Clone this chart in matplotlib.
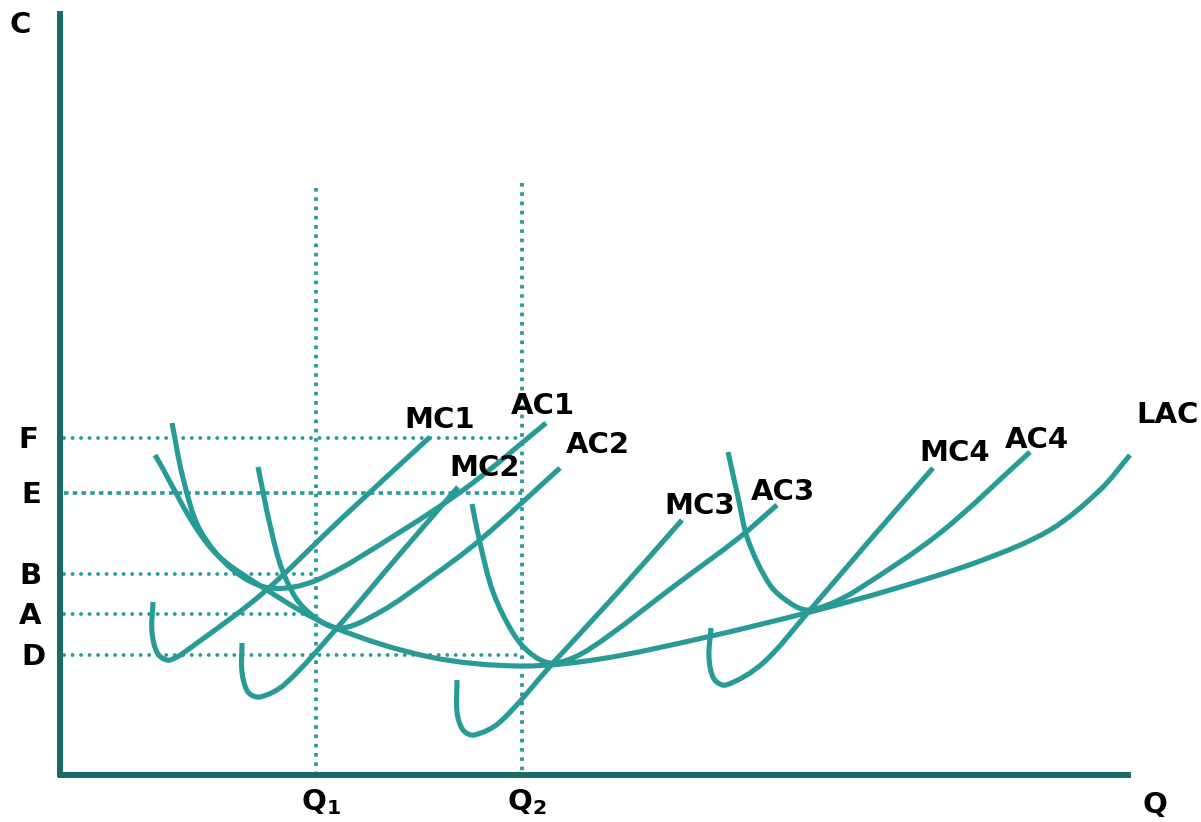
import matplotlib
matplotlib.use("Agg")
import matplotlib.pyplot as plt
from matplotlib.path import Path
from matplotlib.patches import PathPatch
import math

# everything is in picture pixels (y grows downwards)
W, H = 1201, 822
curve_color = "#289b96"
axis_color = "#1b6a69"

# long run average cost
lac = [(155, 455), (210, 547), (267, 590), (333, 627), (430, 657), (520, 666),
       (600, 659), (707, 637), (810, 612), (890, 590), (980, 561),
       (1050, 530), (1100, 490), (1130, 455)]

# short run average costs
ac1 = [(172, 423), (183, 478), (200, 530), (233, 570), (270, 588), (317, 580),
       (400, 532), (470, 485), (546, 423)]
ac2 = [(258, 467), (270, 525), (283, 572), (303, 607), (338, 628), (380, 612),
       (430, 578), (480, 540), (560, 468)]
ac3 = [(472, 504), (480, 543), (493, 592), (513, 633), (530, 653), (550, 663),
       (575, 657), (607, 637), (673, 587), (740, 537), (777, 505)]
ac4 = [(728, 452), (738, 497), (748, 540), (770, 585), (790, 603), (807, 610),
       (830, 604), (857, 590), (940, 533), (1030, 452)]

# short run marginal costs
mc1 = [(153, 602), (152, 632), (158, 654), (170, 660), (197, 643), (263, 593),
       (340, 520), (430, 437)]
mc2 = [(242, 643), (242, 672), (248, 692), (260, 697), (285, 684), (337, 628),
       (400, 554), (458, 487)]
mc3 = [(457, 680), (457, 712), (463, 730), (474, 735), (500, 722), (553, 663),
       (620, 590), (682, 520)]
mc4 = [(711, 628), (709, 657), (714, 679), (726, 685), (763, 663), (810, 610),
       (870, 540), (933, 468)]

curve_labels = ["MC1", "AC1", "MC2", "AC2", "MC3", "AC3", "MC4", "AC4", "LAC"]
label_pos = [(440, 420), (543, 406), (485, 468), (598, 445), (700, 506),
             (783, 492), (955, 453), (1037, 440), (1168, 415)]

# price levels (left) and quantities
level_names = ["F", "E", "B", "A", "D"]
level_y = [438, 493, 574, 614, 655]
level_end = [520, 522, 316, 316, 522]
level_label_x = [28, 31, 30, 30, 33]
level_square = [False, True, False, False, False]
q_x = [316, 522]
q_top = [188, 183]
q_names = [r"$\mathbf{Q}_{\mathbf{1}}$", r"$\mathbf{Q}_{\mathbf{2}}$"]


def smooth_path(pts):
    # smooth curve through the anchors, tangents scaled by chord length
    n = len(pts)

    def dist(a, b):
        return math.hypot(b[0] - a[0], b[1] - a[1])

    verts = [pts[0]]
    codes = [Path.MOVETO]
    for i in range(n - 1):
        p0 = pts[max(i - 1, 0)]
        p1 = pts[i]
        p2 = pts[i + 1]
        p3 = pts[min(i + 2, n - 1)]
        d01, d12, d23 = dist(p0, p1), dist(p1, p2), dist(p2, p3)
        s1 = d12 / (3 * (d01 + d12))
        s2 = d12 / (3 * (d12 + d23))
        c1 = (p1[0] + (p2[0] - p0[0]) * s1, p1[1] + (p2[1] - p0[1]) * s1)
        c2 = (p2[0] - (p3[0] - p1[0]) * s2, p2[1] - (p3[1] - p1[1]) * s2)
        verts += [c1, c2, p2]
        codes += [Path.CURVE4] * 3
    return Path(verts, codes)


plt.rcParams["mathtext.fontset"] = "dejavusans"
fig = plt.figure(figsize=(W / 100, H / 100), dpi=100)
ax = fig.add_axes([0, 0, 1, 1])
ax.set_xlim(0, W)
ax.set_ylim(H, 0)
ax.axis("off")

# dotted guide lines
for y, x1, sq in zip(level_y, level_end, level_square):
    if sq:
        ax.plot([64, x1], [y, y], color=curve_color, lw=2.6,
                linestyle=(0, (1.25, 1.17)), dash_capstyle="butt")
    else:
        ax.plot([64, x1], [y, y], color=curve_color, lw=2.8,
                linestyle=(0, (0.01, 2.18)), dash_capstyle="round")
for x, top in zip(q_x, q_top):
    ax.plot([x, x], [top, 778], color=curve_color, lw=2.7,
            linestyle=(0, (0.97, 1.5)), dash_capstyle="butt")

# cost curves
for pts in [lac, ac1, ac2, ac3, ac4, mc1, mc2, mc3, mc4]:
    ax.add_patch(PathPatch(smooth_path(pts), fill=False, edgecolor=curve_color,
                           lw=3.7, capstyle="butt", joinstyle="round"))

# axes
ax.plot([60, 60], [11, 777], color=axis_color, lw=4.3, solid_capstyle="butt")
ax.plot([58, 1131], [774.5, 774.5], color=axis_color, lw=4.3,
        solid_capstyle="butt")

font = dict(fontsize=21, fontweight="bold", family="DejaVu Sans",
            ha="center", va="center", color="black")
for name, (x, y) in zip(curve_labels, label_pos):
    ax.text(x, y, name, **font)
for name, y, x in zip(level_names, level_y, level_label_x):
    ax.text(x, y + 2, name, **font)
ax.text(20, 25, "C", **font)
ax.text(1155, 805, "Q", **font)
for name, x in zip(q_names, q_x):
    ax.text(x + 5, 802, name, **font)

fig.savefig("out.png", dpi=100)
